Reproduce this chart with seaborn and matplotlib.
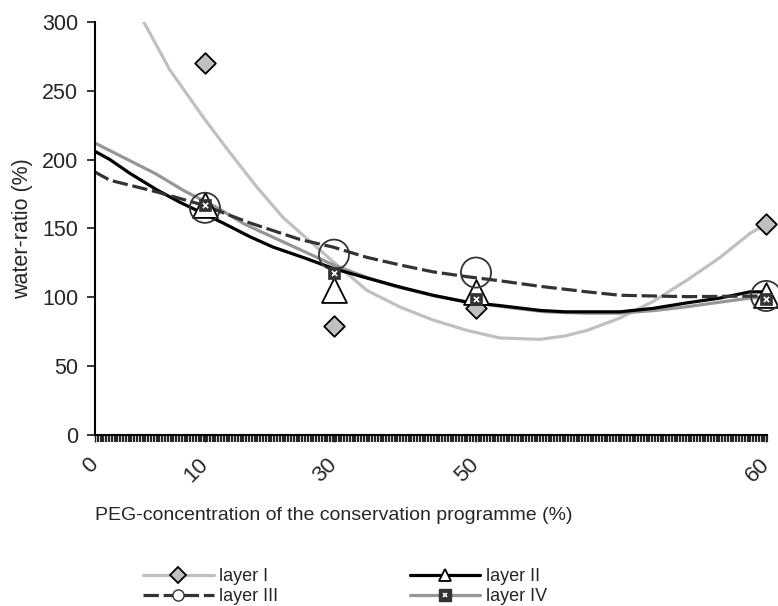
import matplotlib.pyplot as plt
import seaborn as sns
from matplotlib.lines import Line2D
from matplotlib.ticker import FixedLocator, MultipleLocator

sns.set_style('white')
plt.rcParams['font.family'] = ['Liberation Sans', 'DejaVu Sans']

# PEG steps and where they sit on the (non-linear) category axis
peg_pos = [0, 11, 23.9, 38.1, 67.1]
peg_labels = ['0', '10', '30', '50', '60']

# measured water-ratio (%) at 10, 30, 50 and 60 % PEG
point_pos = [11, 23.9, 38.1, 67.1]
layer1 = [270, 79, 92, 153]
layer2 = [167, 105, 104, 102]
layer3 = [165, 131, 118, 101]
layer4 = [167, 118, 99, 99]

# trend curves
trend1_pos = [4.0, 4.8, 7.5, 11, 13.5, 16.2, 18.8, 21.3, 23.8, 27.2, 30.5, 33.8,
              37.2, 40.5, 44.5, 47, 49.2, 52.5, 55.8, 59.2, 62.5, 65.5, 67.1]
trend1 = [312, 301, 265, 229, 205, 180, 158, 142, 126, 105, 93, 83.5,
          76, 70.5, 69.5, 72, 76, 85, 97, 112.5, 129, 146.5, 153]

trend2_pos = [0, 1.5, 3.5, 6.2, 8.5, 10.8, 12.8, 15.5, 17.8, 21, 23.8, 27.2,
              30.5, 33.8, 37.2, 40.5, 44.5, 47, 52.5, 55.8, 59.2, 62.5, 65.5, 67.1]
trend2 = [206, 200, 190, 178, 169, 161, 154, 144, 136.5, 128.5, 121, 114,
          107.5, 101.5, 96.5, 94, 90.5, 89.5, 89.5, 92, 96, 99.5, 104, 104]

trend3_pos = [0, 1.5, 6.2, 10.8, 15.5, 20.5, 23.8, 27.2, 30.5, 33.8, 37.2,
              40.5, 44.5, 49.2, 52.5, 55.8, 59.2, 67.1]
trend3 = [191, 185, 176.5, 167, 154, 142, 136.5, 129, 123.5, 118.5, 115,
          112, 108, 104, 101.5, 101, 100.5, 101]

trend4_pos = [0, 3, 6, 9, 12, 15, 18, 21, 24, 27, 30, 34, 37, 41, 45, 49,
              52.5, 56, 59, 62.5, 65.5, 67.1]
trend4 = [212, 201, 190, 177, 166, 153, 143, 133, 123, 115, 108, 101, 97, 93,
          89.5, 88.5, 88.5, 90.5, 93, 96.5, 99.5, 100]

c1 = '#c0c0c0'
c2 = 'black'
c3 = '#333333'
c4 = '#969696'

fig = plt.figure(figsize=(7.78, 6.06), dpi=100)
ax = fig.add_axes([0.122, 0.282, 0.864, 0.682])

# trend curves
sns.lineplot(x=trend1_pos, y=trend1, ax=ax, color=c1, lw=2.3, sort=False, estimator=None)
sns.lineplot(x=trend4_pos, y=trend4, ax=ax, color=c4, lw=2.3, sort=False, estimator=None)
sns.lineplot(x=trend2_pos, y=trend2, ax=ax, color=c2, lw=2.3, sort=False, estimator=None)
sns.lineplot(x=trend3_pos, y=trend3, ax=ax, color=c3, lw=2.3, sort=False, estimator=None)
ax.lines[-1].set_dashes((4.8, 1.5))

# measured points
sns.scatterplot(x=point_pos, y=layer1, ax=ax, marker='D', s=110, color=c1,
                edgecolor='black', linewidth=1.3, zorder=5, clip_on=False)
sns.scatterplot(x=point_pos, y=layer2, ax=ax, marker='^', s=320, color='white',
                edgecolor='black', linewidth=1.3, zorder=5, clip_on=False)
sns.scatterplot(x=point_pos, y=layer3, ax=ax, marker='o', s=470, color='none',
                edgecolor=c3, linewidth=1.3, zorder=6, clip_on=False)
sns.scatterplot(x=point_pos, y=layer4, ax=ax, marker='s', s=80, color=c3,
                edgecolor=c3, linewidth=0.5, zorder=6, clip_on=False)
sns.scatterplot(x=point_pos, y=layer4, ax=ax, marker='x', s=14, color='white',
                linewidth=1.2, zorder=7, clip_on=False)

ax.set_xlim(0, 67.2)
ax.set_ylim(0, 300)
ax.set_yticks(range(0, 301, 50))
ax.xaxis.set_major_locator(FixedLocator(peg_pos))
ax.xaxis.set_minor_locator(MultipleLocator(0.28))
ax.set_xticklabels(peg_labels)

for s in ['top', 'right']:
    ax.spines[s].set_visible(False)
for s in ['left', 'bottom']:
    ax.spines[s].set_color('black')
    ax.spines[s].set_linewidth(1.5)

ax.tick_params(axis='y', which='major', direction='out', length=6, width=1.3,
               labelsize=15.5, left=True, pad=6)
ax.tick_params(axis='x', which='major', direction='out', length=5, width=1,
               bottom=True, pad=14, labelsize=16, labelrotation=45)
ax.tick_params(axis='x', which='minor', direction='out', length=5, width=1.6,
               bottom=True)
for t in ax.get_xticklabels():
    t.set_ha('right')
    t.set_va('center')
    t.set_rotation_mode('anchor')

ax.set_ylabel('water-ratio (%)', fontsize=15.5)
ax.yaxis.set_label_coords(-0.092, 0.5)
ax.set_xlabel('PEG-concentration of the conservation programme (%)', fontsize=14)
ax.xaxis.set_label_coords(0.355, -0.175)

handles = [
    Line2D([], [], color=c1, lw=2.3, marker='D', markersize=8,
           markerfacecolor=c1, markeredgecolor='black', markeredgewidth=1.3),
    Line2D([], [], color=c3, lw=2.3, dashes=(4.8, 1.5), marker='o', markersize=8,
           markerfacecolor='white', markeredgecolor=c3, markeredgewidth=1),
    Line2D([], [], color=c2, lw=2.3, marker='^', markersize=9,
           markerfacecolor='white', markeredgecolor='black', markeredgewidth=1.3),
    (Line2D([], [], color=c4, lw=2.3, marker='s', markersize=9,
            markerfacecolor=c3, markeredgecolor=c3),
     Line2D([], [], ls='none', marker='x', markersize=3.5, markeredgecolor='white',
            markeredgewidth=1.2)),
]
labels = ['layer I', 'layer III', 'layer II', 'layer IV']
fig.legend(handles, labels, loc='upper left', bbox_to_anchor=(0.184, 0.062),
           ncol=2, frameon=False, fontsize=13, handlelength=3.9,
           handletextpad=0.3, labelspacing=0.15, columnspacing=7.3,
           borderaxespad=0, borderpad=0)

fig.savefig('out.png', dpi=100)
